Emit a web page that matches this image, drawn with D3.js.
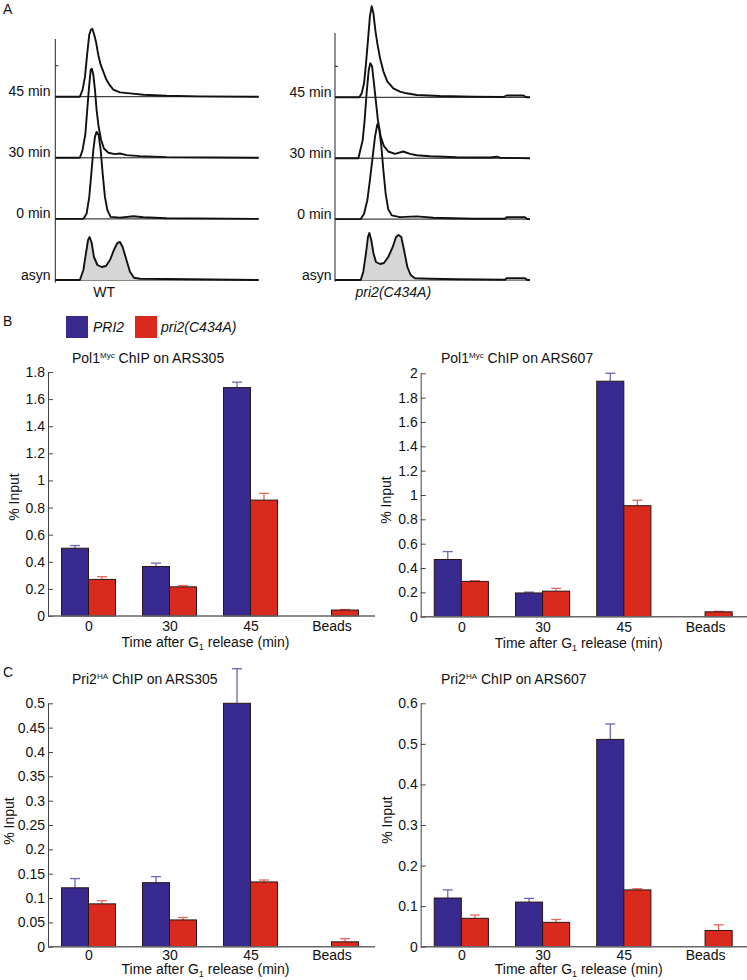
<!DOCTYPE html>
<html><head><meta charset="utf-8">
<script src="https://cdn.jsdelivr.net/npm/d3@7/dist/d3.min.js"></script>
<style>
body{margin:0;background:#fff;}
svg{display:block;font-family:"Liberation Sans",Arial,Helvetica,sans-serif;}
</style></head><body>
<svg id="fig" width="747" height="980"></svg>
<script>
// ---------------- DATA ----------------
// Panel A: flow cytometry histograms, [channel (0-1000), count]
const rowsA = ["45 min", "30 min", "0 min", "asyn"];
const wt45 = [[0,0],[121,0],[134,6.7],[146,20],[157,43],[167,62],[175,67],[182,68],[190,63],[200,55],[211,42],[223,32],[236,25],[249,18],[266,12],[285,7],[318,4.3],[367,3.3],[433,2],[547,1],[711,0.3],[1000,0]];
const wt30 = [[0,0],[121,0],[134,7.7],[148,24],[157,48],[166,71],[174,88],[180,89],[187,83],[195,68],[203,48],[213,31],[225,18],[239,9.3],[261,5],[293,3.7],[318,4.3],[351,2.7],[416,1.7],[547,0.7],[1000,0]];
const wt0 = [[0,0],[138,0],[154,5.3],[167,22],[177,45],[187,69],[195,82],[203,87],[213,84],[223,69],[233,45],[244,22],[256,8.7],[272,2],[318,1.3],[384,2.7],[433,1.7],[547,0.7],[1000,0]];
const wtAsyn = [[0,0],[121,0],[138,10],[151,27],[161,40],[169,43],[179,37],[190,23],[207,15],[228,13],[249,14],[269,20],[288,30],[305,37],[318,38],[331,33],[347,22],[367,8.3],[387,2.3],[416,1.3],[547,1],[1000,0]];
const mut45 = [[0,0],[125,0],[137,4],[149,14],[159,34],[169,57],[179,81],[188,91],[197,84],[207,67],[217,54],[231,39],[248,26],[268,16],[299,9],[333,5.7],[367,4],[419,2.3],[538,1.3],[709,0.7],[863,0.3],[880,1.8],[966,1.8],[983,0],[1000,0]];
const mut30 = [[0,0],[120,0],[128,6.7],[142,18],[152,38],[162,65],[173,88],[181,95],[190,92],[198,78],[209,58],[220,38],[234,22],[251,12],[273,6.7],[308,4.3],[350,6.7],[385,4.3],[419,3],[487,2],[624,1],[795,0.7],[829,1.5],[846,0.5],[1000,0]];
const mut0 = [[0,0],[132,0],[149,5.3],[166,19],[179,39],[193,62],[205,82],[217,95],[227,90],[238,72],[248,49],[260,25],[273,10],[291,3.7],[333,2],[419,2.7],[504,1.3],[709,0.3],[872,0.3],[880,1.8],[974,1.8],[986,0],[1000,0]];
const mutAsyn = [[0,0],[132,0],[145,8.3],[159,27],[169,43],[176,47],[186,40],[197,27],[210,18],[231,16],[251,17],[273,23],[296,33],[313,43],[326,45],[340,43],[354,30],[371,13],[388,5],[410,1.7],[487,1.3],[624,0.7],[872,0.3],[880,1.8],[974,1.8],[986,0],[1000,0]];
const flowAxisTicks = [31];

// Panels B and C: ChIP bar charts
const categories = ["0", "30", "45", "Beads"];
const seriesNames = ["PRI2", "pri2(C434A)"];
const b305PRI2 = [0.50, 0.365, 1.685, null];
const b305PRI2Err = [0.02, 0.025, 0.04, null];
const b305Mut = [0.27, 0.215, 0.855, 0.044];
const b305MutErr = [0.02, 0.01, 0.05, 0.004];
const b607PRI2 = [0.47, 0.195, 1.935, null];
const b607PRI2Err = [0.065, 0.007, 0.065, null];
const b607Mut = [0.29, 0.21, 0.912, 0.04];
const b607MutErr = [0.006, 0.023, 0.045, 0.004];
const c305PRI2 = [0.121, 0.1315, 0.50, null];
const c305PRI2Err = [0.019, 0.0125, 0.071, null];
const c305Mut = [0.088, 0.055, 0.133, 0.01];
const c305MutErr = [0.0065, 0.005, 0.004, 0.0065];
const c607PRI2 = [0.12, 0.11, 0.511, null];
const c607PRI2Err = [0.02, 0.009, 0.038, null];
const c607Mut = [0.07, 0.06, 0.14, 0.04];
const c607MutErr = [0.008, 0.007, 0.003, 0.014];
const ticksB305 = [0, 0.2, 0.4, 0.6, 0.8, 1, 1.2, 1.4, 1.6, 1.8];
const ticksB607 = [0, 0.2, 0.4, 0.6, 0.8, 1, 1.2, 1.4, 1.6, 1.8, 2];
const ticksC305 = [0, 0.05, 0.1, 0.15, 0.2, 0.25, 0.3, 0.35, 0.4, 0.45, 0.5];
const ticksC607 = [0, 0.1, 0.2, 0.3, 0.4, 0.5, 0.6];

// ---------------- STYLE ----------------
const BLUE = "#392a8f", RED = "#da2a1d";
const BLUE_ERR = "#6d66b5", RED_ERR = "#e8675b";
const FONT = 14;

const svg = d3.select("#fig");

function letter(t, x, y) {
  svg.append("text").attr("x", x).attr("y", y).attr("font-size", 14).attr("fill", "#111").text(t);
}
letter("A", 3, 14);
letter("B", 3, 326);
letter("C", 3, 677);

// ---------------- PANEL A ----------------
function drawFlow(cfg, hists, caption, italic) {
  const g = svg.append("g");
  const x = d3.scaleLinear().domain([0, 1000]).range([cfg.x0, cfg.x1]);
  const row = d3.scalePoint().domain(rowsA).range([cfg.yTop, cfg.yBot]);
  const h = d3.scaleLinear().domain([0, 100]).range([0, 100]);
  rowsA.forEach(r => {
    g.append("line").attr("x1", cfg.x0).attr("x2", cfg.x1)
      .attr("y1", row(r)).attr("y2", row(r)).attr("stroke", "#111").attr("stroke-width", 1);
    g.append("text").attr("x", cfg.labelX).attr("y", row(r) - 0.5)
      .attr("text-anchor", "end").attr("font-size", FONT).attr("fill", "#111").text(r);
  });
  rowsA.forEach((r, i) => {
    const base = row(r);
    if (r === "asyn") {
      const area = d3.area().x(d => x(d[0])).y0(base).y1(d => base - h(d[1]));
      g.append("path").datum(hists[i]).attr("d", area).attr("fill", "#d6d6d6");
    }
  });
  rowsA.forEach((r, i) => {
    const base = row(r);
    const line = d3.line().x(d => x(d[0])).y(d => base - h(d[1]));
    g.append("path").datum(hists[i]).attr("d", line).attr("fill", "none")
      .attr("stroke", "#111").attr("stroke-width", 1.9).attr("stroke-linejoin", "round");
  });
  g.append("line").attr("x1", cfg.x0).attr("x2", cfg.x0)
    .attr("y1", cfg.axisTop).attr("y2", cfg.axisBot).attr("stroke", "#222").attr("stroke-width", 1);
  flowAxisTicks.forEach(t => {
    g.append("line").attr("x1", cfg.x0).attr("x2", cfg.x0 + 3)
      .attr("y1", row(rowsA[0]) - h(t)).attr("y2", row(rowsA[0]) - h(t))
      .attr("stroke", "#222").attr("stroke-width", 1);
  });
  g.append("text").attr("x", x(cfg.captionCh)).attr("y", cfg.captionY)
    .attr("text-anchor", "middle").attr("font-size", FONT).attr("fill", "#111")
    .attr("font-style", italic ? "italic" : "normal").text(caption);
}
drawFlow({x0: 55.3, x1: 258.7, yTop: 96.7, yBot: 280, axisTop: 39, axisBot: 282.7, labelX: 50.5, captionCh: 240, captionY: 297},
  [wt45, wt30, wt0, wtAsyn], "WT", false);
drawFlow({x0: 335, x1: 530, yTop: 97.3, yBot: 280, axisTop: 33, axisBot: 281.7, labelX: 331.5, captionCh: 299, captionY: 297},
  [mut45, mut30, mut0, mutAsyn], "pri2(C434A)", true);

// ---------------- LEGEND ----------------
const leg = svg.append("g");
[[BLUE, 66, 93], [RED, 135, 161]].forEach((d, i) => {
  leg.append("rect").attr("x", d[1]).attr("y", 316).attr("width", 22).attr("height", 22).attr("fill", d[0]);
  leg.append("text").attr("x", d[2]).attr("y", 331.5).attr("font-size", FONT).attr("font-style", "italic")
    .attr("fill", "#111").text(seriesNames[i]);
});

// ---------------- BAR CHARTS ----------------
const fmt = d => String(+d.toFixed(3));

function drawBars(cfg, pri, priErr, mut, mutErr, ticks) {
  const g = svg.append("g");
  const x = d3.scalePoint().domain(categories).range([cfg.x0, cfg.x1]).padding(0.5);
  const bw = x.step() / 3;
  const y = d3.scaleLinear().domain([0, cfg.ymax]).range([cfg.yBase, cfg.yTop]);

  const t = g.append("text").attr("x", cfg.titleX).attr("y", cfg.titleY).attr("font-size", FONT).attr("fill", "#111");
  t.append("tspan").text(cfg.title[0]);
  t.append("tspan").attr("font-size", 8).attr("dy", -5).text(cfg.title[1]);
  t.append("tspan").attr("dy", 5).text(cfg.title[2]);

  const ya = g.append("g").attr("transform", `translate(${cfg.x0},0)`)
    .call(d3.axisLeft(y).tickValues(ticks).tickSizeInner(-5).tickSizeOuter(0).tickPadding(3).tickFormat(fmt));
  ya.attr("font-family", null).attr("font-size", null);
  ya.selectAll("text").attr("font-size", FONT).attr("fill", "#111");
  ya.selectAll("line").attr("stroke", "#444");
  ya.select(".domain").attr("stroke", "#444");

  g.append("text").attr("transform", `translate(${cfg.yLabelX},${cfg.yLabelY}) rotate(-90)`)
    .attr("text-anchor", "middle").attr("font-size", FONT).attr("fill", "#111").text("% Input");

  const series = [
    {vals: pri, err: priErr, fill: BLUE, ec: BLUE_ERR, off: -1},
    {vals: mut, err: mutErr, fill: RED, ec: RED_ERR, off: 0}
  ];
  series.forEach(s => {
    categories.forEach((c, i) => {
      const v = s.vals[i];
      if (v == null) return;
      const bx = x(c) + s.off * bw;
      const cx = bx + bw / 2;
      const e = s.err[i] || 0;
      g.append("line").attr("x1", cx).attr("x2", cx).attr("y1", y(v)).attr("y2", y(v + e))
        .attr("stroke", s.ec).attr("stroke-width", 1.3);
      g.append("line").attr("x1", cx - 5).attr("x2", cx + 5).attr("y1", y(v + e)).attr("y2", y(v + e))
        .attr("stroke", s.ec).attr("stroke-width", 1.3);
      g.append("rect").attr("x", bx).attr("y", y(v)).attr("width", bw).attr("height", y(0) - y(v))
        .attr("fill", s.fill).attr("stroke", "#2a1414").attr("stroke-width", 1);
    });
  });

  const xa = g.append("g").attr("transform", `translate(0,${cfg.yBase})`)
    .call(d3.axisBottom(x).tickSize(0).tickPadding(cfg.catPad));
  xa.attr("font-family", null).attr("font-size", null);
  xa.select(".domain").remove();
  xa.selectAll("text").attr("font-size", FONT).attr("fill", "#111");
  g.append("line").attr("x1", cfg.x0).attr("x2", cfg.xAxisEnd).attr("y1", cfg.yBase).attr("y2", cfg.yBase)
    .attr("stroke", "#666").attr("stroke-width", 1.6);

  const xl = g.append("text").attr("x", cfg.xLabelX).attr("y", cfg.yBase + cfg.timeOff)
    .attr("text-anchor", "middle").attr("font-size", FONT).attr("fill", "#111");
  xl.append("tspan").text("Time  after G");
  xl.append("tspan").attr("font-size", 9).attr("dy", 3).text("1");
  xl.append("tspan").attr("dy", -3).text(" release (min)");
}

drawBars({x0: 48, x1: 372, xAxisEnd: 375, yBase: 616, yTop: 372, ymax: 1.8, catPad: 5.5, timeOff: 31,
  title: ["Pol1", "Myc", " ChIP on ARS305"], titleX: 72, titleY: 363,
  yLabelX: 19, yLabelY: 497, xLabelX: 205.5}, b305PRI2, b305PRI2Err, b305Mut, b305MutErr, ticksB305);
drawBars({x0: 420.7, x1: 745.7, xAxisEnd: 747, yBase: 616.7, yTop: 373.3, ymax: 2, catPad: 5.5, timeOff: 31,
  title: ["Pol1", "Myc", " ChIP on ARS607"], titleX: 441, titleY: 363,
  yLabelX: 391, yLabelY: 500, xLabelX: 578.7}, b607PRI2, b607PRI2Err, b607Mut, b607MutErr, ticksB607);
drawBars({x0: 48, x1: 372, xAxisEnd: 375, yBase: 946.7, yTop: 703.3, ymax: 0.5, catPad: 3.5, timeOff: 27.5,
  title: ["Pri2", "HA", " ChIP on ARS305"], titleX: 72, titleY: 684,
  yLabelX: 14, yLabelY: 821, xLabelX: 205.5}, c305PRI2, c305PRI2Err, c305Mut, c305MutErr, ticksC305);
drawBars({x0: 420.7, x1: 745.7, xAxisEnd: 747, yBase: 946.7, yTop: 703.3, ymax: 0.6, catPad: 3.5, timeOff: 27.5,
  title: ["Pri2", "HA", " ChIP on ARS607"], titleX: 441, titleY: 684,
  yLabelX: 392, yLabelY: 820, xLabelX: 578.7}, c607PRI2, c607PRI2Err, c607Mut, c607MutErr, ticksC607);
</script></body></html>
